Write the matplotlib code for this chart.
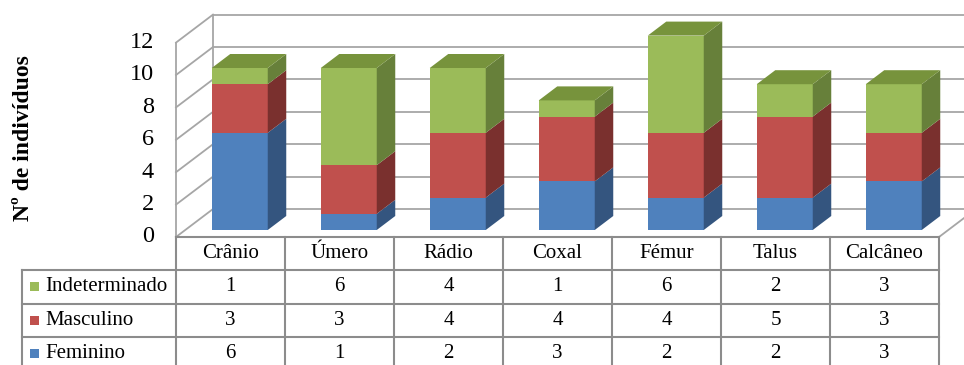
import numpy as np
import matplotlib.pyplot as plt
from matplotlib.patches import Polygon, Rectangle

plt.rcParams["font.family"] = ["Liberation Serif", "DejaVu Serif"]

# ---------------- dados ----------------
ossos = ["Crânio", "Úmero", "Rádio", "Coxal", "Fémur", "Talus", "Calcâneo"]
feminino = [6, 1, 2, 3, 2, 2, 3]
masculino = [3, 3, 4, 4, 4, 5, 3]
indeterminado = [1, 6, 4, 1, 6, 2, 3]
series = [("Feminino", feminino), ("Masculino", masculino), ("Indeterminado", indeterminado)]
yticks = [0, 2, 4, 6, 8, 10, 12]

# cores: frente, lado, topo
cores = {
    "Feminino": ("#4F81BD", "#34557F", "#3F6797"),
    "Masculino": ("#C0504D", "#7A302E", "#9A403D"),
    "Indeterminado": ("#9BBB59", "#67803A", "#77933C"),
}
grid_c = "#A6A6A6"
tab_c = "#8C8C8C"

# ---------------- geometria ----------------
UX, UY = 109.0, 16.2          # pixeis por unidade (x: categoria, y: valor)
DX, DY = 37 / UX, 28 / UY      # profundidade da caixa 3D
ymax = 12
ncat = len(ossos)
larg = 56 / UX                 # largura da barra

fig = plt.figure(figsize=(9.64, 3.65), dpi=100)
ax = fig.add_axes([0, 0, 1, 1])
ax.set_xlim(-176 / UX, (964 - 176) / UX)
ax.set_ylim(-(365 - 237) / UY, 237 / UY)
ax.axis("off")

# paredes: linhas de grelha na parede lateral e na parede do fundo
for v in yticks:
    ax.plot([0, DX], [v, v + DY], color=grid_c, lw=1.3, zorder=1)
    ax.plot([DX, ncat + DX + 0.2], [v + DY, v + DY], color=grid_c, lw=1.3, zorder=1)
ax.plot([0, 0], [0, ymax], color=grid_c, lw=1.3, zorder=1)
ax.plot([DX, DX], [DY, ymax + DY], color=grid_c, lw=1.3, zorder=1)
# chão
ax.plot([0, ncat], [0, 0], color=grid_c, lw=1.3, zorder=1)
ax.plot([ncat, ncat + DX], [0, DY], color=grid_c, lw=1.3, zorder=1)

for v in yticks:
    ax.text(-22 / UX, v, str(v), ha="right", va="center", fontsize=17.5)

ax.text(-153 / UX, 6.1, "Nº de indivíduos", rotation=90, ha="center", va="center",
        fontsize=17, fontweight="bold")

# barras empilhadas (frente + lado + topo)
x = np.arange(ncat) + 0.5 + 0.25 * DX
y0 = 0.25 * DY
bdx, bdy = 0.5 * DX, 0.5 * DY
base = np.zeros(ncat)
for nome, vals in series:
    vals = np.array(vals, dtype=float)
    fr, la, to = cores[nome]
    ax.bar(x, vals, bottom=base + y0, width=larg, color=fr, zorder=3, linewidth=0)
    for i in range(ncat):
        xr = x[i] + larg / 2
        b = base[i] + y0
        t = b + vals[i]
        ax.add_patch(Polygon([[xr, b], [xr + bdx, b + bdy], [xr + bdx, t + bdy], [xr, t]],
                             closed=True, facecolor=la, edgecolor="none", zorder=3))
    base = base + vals

# topo das barras
top_c = cores[series[-1][0]][2]
for i in range(ncat):
    xl, xr = x[i] - larg / 2, x[i] + larg / 2
    t = base[i] + y0
    ax.add_patch(Polygon([[xl, t], [xr, t], [xr + bdx, t + bdy], [xl + bdx, t + bdy]],
                         closed=True, facecolor=top_c, edgecolor="none", zorder=3))

# ---------------- tabela de dados ----------------
h_head = 33 / UY
h_row = 33.5 / UY
left = -154 / UX
fundo = -8.5
linhas_y = [-h_head - k * h_row for k in range(3)]
ax.plot([0, ncat], [0, 0], color=tab_c, lw=1.5, zorder=4)
for yy in linhas_y:
    ax.plot([left, ncat], [yy, yy], color=tab_c, lw=1.5, zorder=4)
ax.plot([left, left], [linhas_y[0], fundo], color=tab_c, lw=1.5, zorder=4)
for k in range(ncat + 1):
    ax.plot([k, k], [0, fundo], color=tab_c, lw=1.5, zorder=4)

for i, nome in enumerate(ossos):
    ax.text(i + 0.5, -h_head / 2, nome, ha="center", va="center", fontsize=15)

for r, (nome, vals) in enumerate(series[::-1]):
    yc = -h_head - (r + 0.5) * h_row
    sq_w, sq_h = 9 / UX, 9 / UY
    ax.add_patch(Rectangle((-146 / UX, yc - sq_h / 2), sq_w, sq_h,
                           facecolor=cores[nome][0], edgecolor="none", zorder=4))
    ax.text(-131 / UX, yc, nome, ha="left", va="center", fontsize=15)
    for i, v in enumerate(vals):
        ax.text(i + 0.5, yc, str(v), ha="center", va="center", fontsize=15)

fig.savefig("out.png", dpi=100)
